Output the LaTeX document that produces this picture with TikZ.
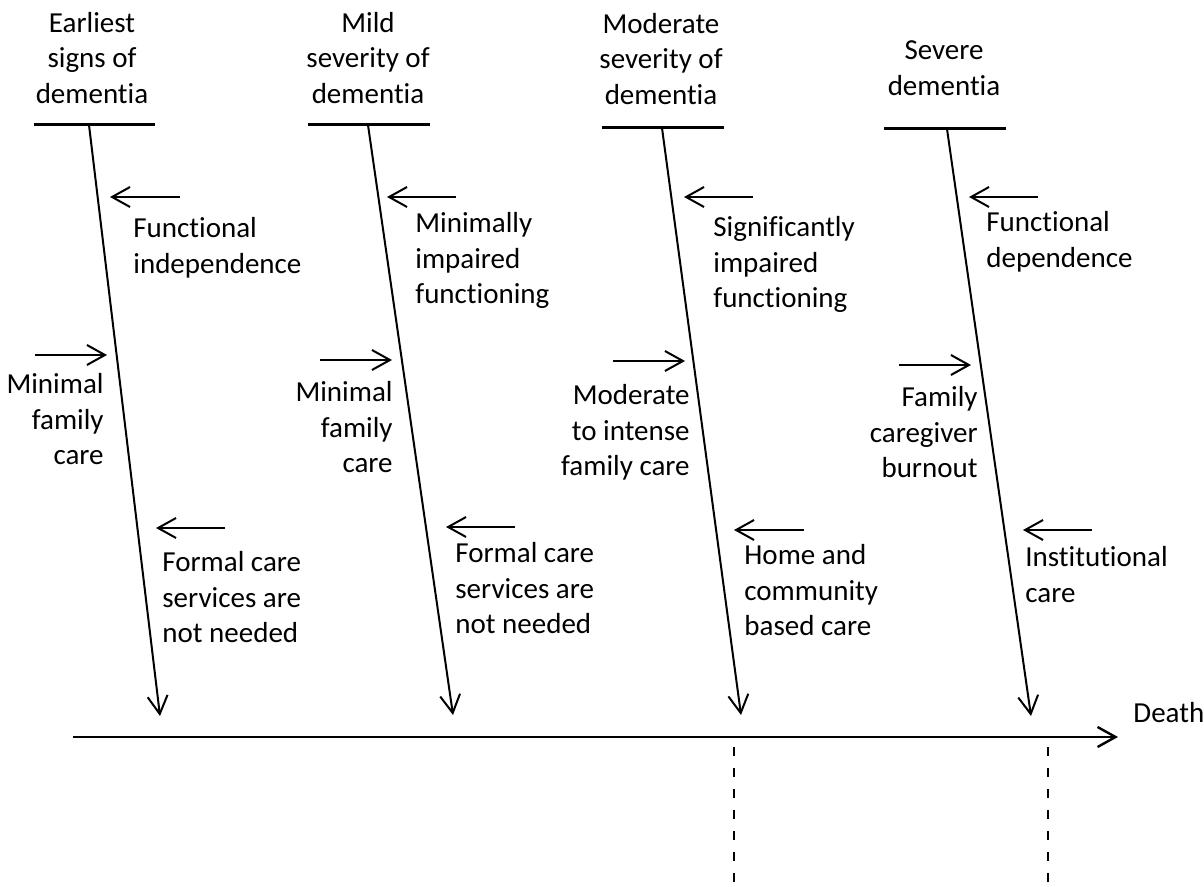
\documentclass[tikz,border=0pt]{standalone}
\usepackage{fontspec}
\setmainfont[Ligatures={NoCommon}]{Carlito}
\usetikzlibrary{arrows.meta}
\tikzset{
	bar/.style={line width=1.5pt},
	spine/.style={line width=1pt,-{Straight Barb[length=9pt,width=10pt,line width=1pt]}},
	axis/.style={line width=1.2pt,-{Straight Barb[length=9pt,width=10pt,line width=1.2pt]}},
	guide/.style={line width=0.8pt,dash pattern=on 4.5pt off 6pt},
	stage/.style={align=center,inner sep=0pt,anchor=south},
	lbl/.style={align=left,inner sep=0pt,anchor=north west},
	rlbl/.style={align=right,inner sep=0pt,anchor=north east}
}
\begin{document}
\begin{tikzpicture}[x=0.5pt,y=-0.5pt,font=\fontsize{14.5}{17.75}\selectfont]
		\useasboundingbox (0,0) rectangle (1204,887);
		
		\node[stage] (st1) at (92,104) {Earliest\\signs of\\dementia};
		\node[stage] (st2) at (368,104) {Mild\\severity of\\dementia};
		\node[stage] (st3) at (661,105) {Moderate\\severity of\\dementia};
		\node[stage] (st4) at (944,96) {Severe\\dementia};
		
		\coordinate (b1l) at (34,125);  \coordinate (b1r) at (155,125);
		\coordinate (b2l) at (308,125); \coordinate (b2r) at (430,125);
		\coordinate (b3l) at (602,128); \coordinate (b3r) at (724,128);
		\coordinate (b4l) at (884,129); \coordinate (b4r) at (1006,129);
		\draw[bar] (b1l) -- (b1r);
		\draw[bar] (b2l) -- (b2r);
		\draw[bar] (b3l) -- (b3r);
		\draw[bar] (b4l) -- (b4r);
		
		\coordinate (t1) at (89,125);  \coordinate (e1) at (160,716);
		\coordinate (t2) at (368,125); \coordinate (e2) at (453,715);
		\coordinate (t3) at (662,128); \coordinate (e3) at (741,715);
		\coordinate (t4) at (947,129); \coordinate (e4) at (1031,716);
		\draw[spine] (t1) -- (e1);
		\draw[spine] (t2) -- (e2);
		\draw[spine] (t3) -- (e3);
		\draw[spine] (t4) -- (e4);
		
		\node[lbl] (fn1) at (133,217) {Functional\\independence};
		\node[rlbl] (fc1) at (104,373) {Minimal\\family\\care};
		\node[lbl] (cs1) at (162,551) {Formal care\\services are\\not needed};
		\coordinate (fn1a) at (180,197); \coordinate (fn1b) at (110,197);
		\coordinate (fc1a) at (35,355);  \coordinate (fc1b) at (107,355);
		\coordinate (cs1a) at (225,528); \coordinate (cs1b) at (156,528);
		\draw[spine] (fn1a) -- (fn1b);
		\draw[spine] (fc1a) -- (fc1b);
		\draw[spine] (cs1a) -- (cs1b);
		
		\node[lbl] (fn2) at (415,212) {Minimally\\impaired\\functioning};
		\node[rlbl] (fc2) at (393,381) {Minimal\\family\\care};
		\node[lbl] (cs2) at (455,542) {Formal care\\services are\\not needed};
		\coordinate (fn2a) at (456,197); \coordinate (fn2b) at (387,197);
		\coordinate (fc2a) at (320,360); \coordinate (fc2b) at (392,360);
		\coordinate (cs2a) at (515,527); \coordinate (cs2b) at (446,527);
		\draw[spine] (fn2a) -- (fn2b);
		\draw[spine] (fc2a) -- (fc2b);
		\draw[spine] (cs2a) -- (cs2b);
		
		\node[lbl] (fn3) at (713,216) {Significantly\\impaired\\functioning};
		\node[rlbl] (fc3) at (690,384) {Moderate\\to intense\\family care};
		\node[lbl] (cs3) at (744,544) {Home and\\community\\based care};
		\coordinate (fn3a) at (753,197); \coordinate (fn3b) at (684,197);
		\coordinate (fc3a) at (613,361); \coordinate (fc3b) at (685,361);
		\coordinate (cs3a) at (804,530); \coordinate (cs3b) at (734,530);
		\draw[spine] (fn3a) -- (fn3b);
		\draw[spine] (fc3a) -- (fc3b);
		\draw[spine] (cs3a) -- (cs3b);
		
		\node[lbl] (fn4) at (986,211) {Functional\\dependence};
		\node[rlbl] (fc4) at (978,386) {Family\\caregiver\\burnout};
		\node[lbl] (cs4) at (1025,546) {Institutional\\care};
		\coordinate (fn4a) at (1038,197); \coordinate (fn4b) at (969,197);
		\coordinate (fc4a) at (899,365);  \coordinate (fc4b) at (971,365);
		\coordinate (cs4a) at (1092,530); \coordinate (cs4b) at (1023,530);
		\draw[spine] (fn4a) -- (fn4b);
		\draw[spine] (fc4a) -- (fc4b);
		\draw[spine] (cs4a) -- (cs4b);
		
		\coordinate (ax0) at (73,737); \coordinate (ax1) at (1118,737);
		\draw[axis] (ax0) -- (ax1);
		\node[anchor=base west,inner sep=0pt] (death) at (1133,722) {Death};
		
		\coordinate (d1a) at (734,747);  \coordinate (d1b) at (734,887);
		\coordinate (d2a) at (1048,747); \coordinate (d2b) at (1048,887);
		\draw[guide] (d1a) -- (d1b);
		\draw[guide] (d2a) -- (d2b);
\end{tikzpicture}
\end{document}
